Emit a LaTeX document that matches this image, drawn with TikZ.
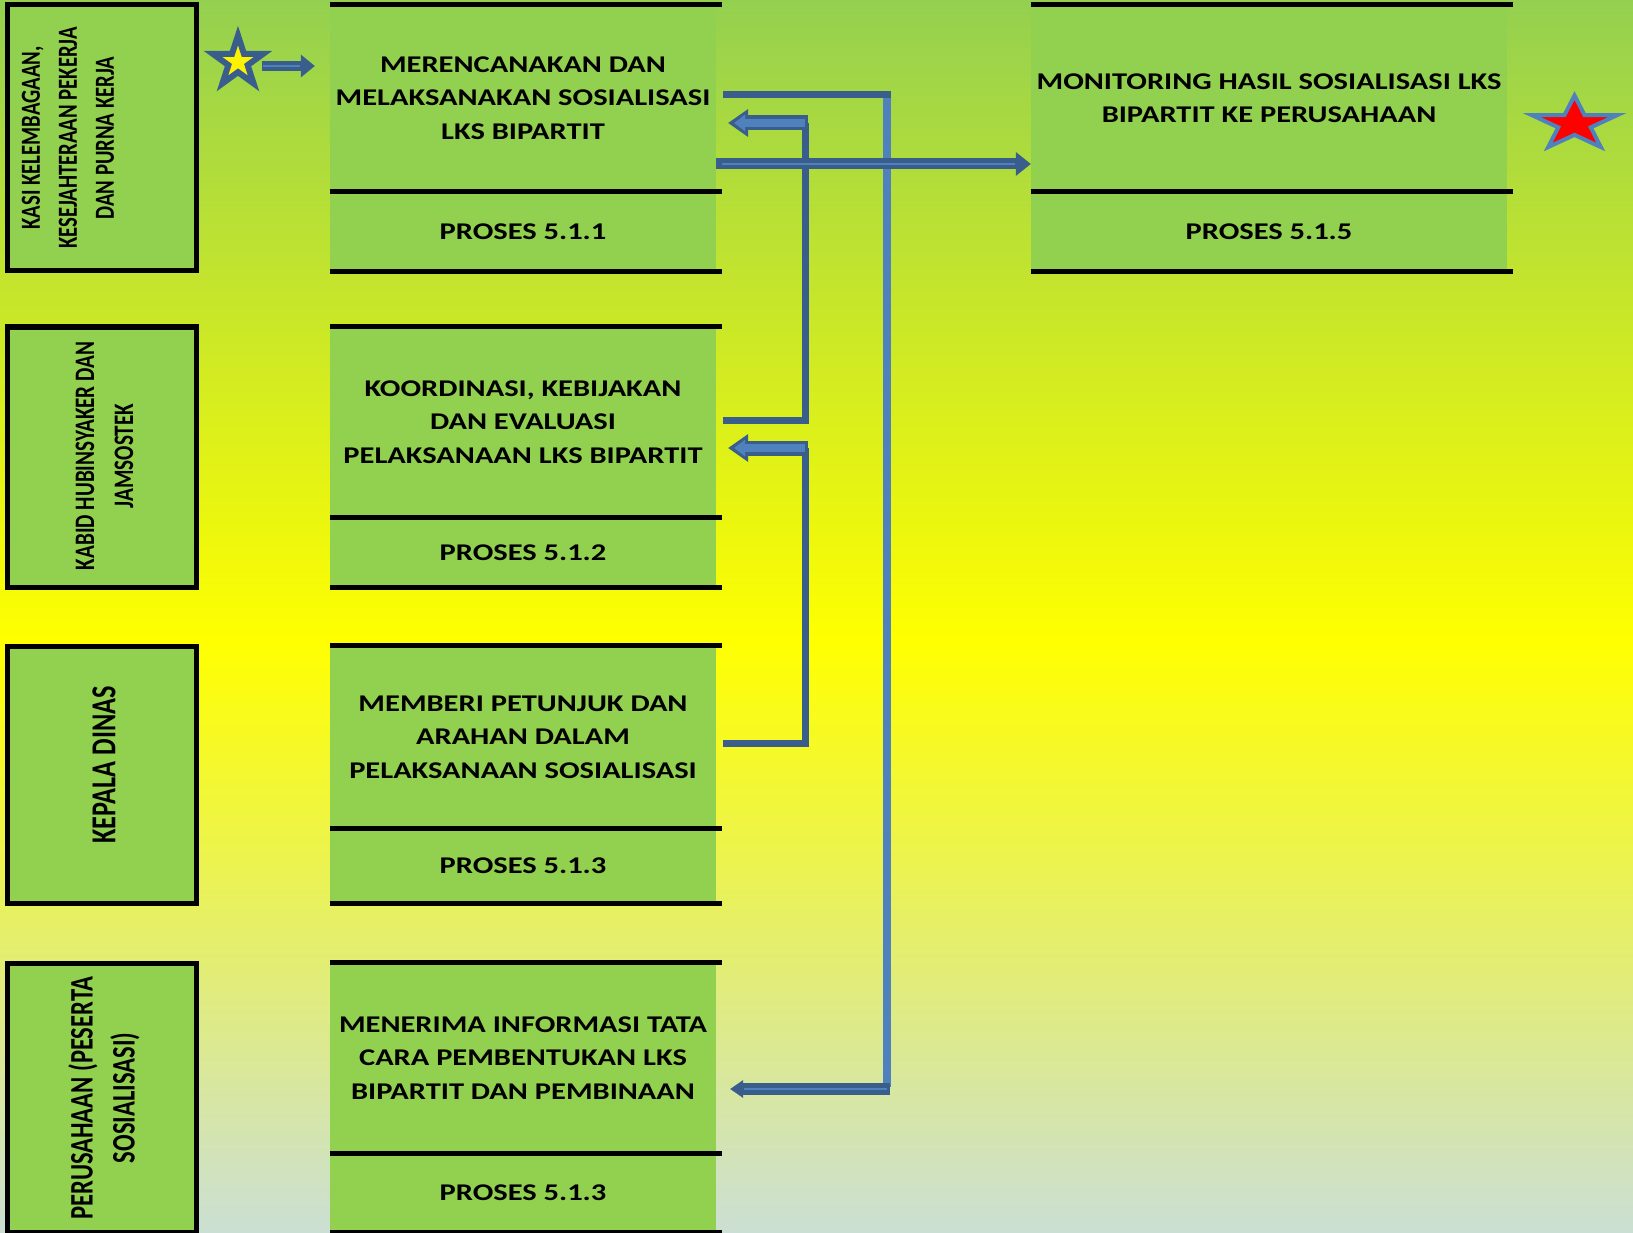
\documentclass[tikz,border=0pt]{standalone}
\usepackage{fontspec}
\setmainfont{Carlito}
\newfontfamily\taskfont{Carlito}[FakeStretch=1.27]
\newfontfamily\rolefont{Carlito}[FakeStretch=0.75]
\usepackage{xcolor}
\usetikzlibrary{
	arrows.meta,
	calc,
	positioning,
	shapes.geometric
}
\definecolor{boxgreen}{RGB}{146,208,80}
\definecolor{topgreen}{RGB}{148,208,80}
\definecolor{midyellow}{RGB}{255,255,0}
\definecolor{bottomgrey}{RGB}{203,223,212}
\definecolor{darkblue}{RGB}{57,94,140}
\definecolor{lightblue}{RGB}{79,129,189}

\begin{document}
\begin{tikzpicture}
	[x=1pt, y=-1pt,
	 role/.style={draw=black, line width=5pt, fill=boxgreen, inner sep=0pt},
	 roletext/.style={rotate=90, align=center, inner sep=0pt},
	 task/.style={fill=boxgreen, minimum width=386pt, inner sep=0pt, align=center,
		font=\taskfont\bfseries\fontsize{24pt}{33.5pt}\selectfont},
	 rule/.style={line width=5pt},
	 feed/.style={draw=darkblue, line width=7pt},
	 spine/.style={draw=lightblue, line width=8pt},
	 flat/.style={draw=darkblue, line width=11pt,
		-{Triangle[length=15pt, width=24pt, line width=0pt]}},
	 stripe/.style={draw=lightblue, line width=1.5pt},
	 hollow/.style={draw=darkblue, line width=15pt,
		-{Triangle[length=20pt, width=28pt, line width=0pt]}},
	 hollowfill/.style={draw=lightblue, line width=8pt, shorten >=6pt,
		-{Triangle[length=11pt, width=17pt, line width=0pt]}},
	 mark star/.style={star, star points=5, star point ratio=2.618, inner sep=0pt}
	]

	\useasboundingbox (0,0) rectangle (1633,1233);

	% background
	\begin{scope}
		\shade[top color=topgreen, bottom color=midyellow] (0,0) rectangle (1633,640);
		\shade[top color=midyellow, bottom color=bottomgrey] (0,639) rectangle (1633,1233);
	\end{scope}

	% lanes (who does it)
	\begin{scope}
		\foreach \i/\top/\bot in {1/5/271, 2/327/587, 3/646/903, 4/963/1232} {
			\pgfmathsetmacro\len{\bot-\top}
			\node[role, minimum width=189pt, minimum height=\len pt] (role\i) at (101.5, {(\top+\bot)/2}) {};
		}

		\node[roletext, font=\rolefont\bfseries\fontsize{27.6pt}{37pt}\selectfont] (role1text) at (68,138)
			{KASI KELEMBAGAAN,\\KESEJAHTERAAN PEKERJA\\DAN PURNA KERJA};
		\node[roletext, font=\rolefont\bfseries\fontsize{28.2pt}{39pt}\selectfont] (role2text) at (104.5,456)
			{KABID HUBINSYAKER DAN\\JAMSOSTEK};
		\node[roletext, font=\rolefont\bfseries\fontsize{35pt}{40pt}\selectfont] (role3text) at (104,765)
			{KEPALA DINAS};
		\node[roletext, font=\rolefont\bfseries\fontsize{32.8pt}{42pt}\selectfont] (role4text) at (104,1098)
			{PERUSAHAAN (PESERTA\\SOSIALISASI)};
	\end{scope}

	% process boxes
	\begin{scope}
		\newcommand{\RuleOver}{6pt}
		\foreach \i/\top/\mid/\bot/\job/\num in {
			1/5/191/271/{MERENCANAKAN DAN\\MELAKSANAKAN SOSIALISASI\\LKS BIPARTIT}/5.1.1,
			2/327/517/587/{KOORDINASI, KEBIJAKAN\\DAN EVALUASI\\PELAKSANAAN LKS BIPARTIT}/5.1.2,
			3/646/828/903/{MEMBERI PETUNJUK DAN\\ARAHAN DALAM\\PELAKSANAAN SOSIALISASI}/5.1.3,
			4/963/1153/1232/{MENERIMA INFORMASI TATA\\CARA PEMBENTUKAN LKS\\BIPARTIT DAN PEMBINAAN}/5.1.3} {
			\pgfmathsetmacro\hjob{\mid-\top}
			\pgfmathsetmacro\hnum{\bot-\mid}
			\node[task, minimum height=\hjob pt] (task\i) at (523, {(\top+\mid)/2}) {\job};
			\node[task, minimum height=\hnum pt, below=0pt of task\i] (num\i) {PROSES \num};
			\draw[rule] (task\i.north west) -- ([xshift=\RuleOver]task\i.north east);
			\draw[rule] (num\i.north west) -- ([xshift=\RuleOver]num\i.north east);
			\draw[rule] (num\i.south west) -- ([xshift=\RuleOver]num\i.south east);
		}

		% monitoring box
		\node[task, minimum width=476pt, minimum height=186pt] (monitor) at (1269,98)
			{MONITORING HASIL SOSIALISASI LKS\\BIPARTIT KE PERUSAHAAN};
		\node[task, minimum width=476pt, minimum height=80pt, below=0pt of monitor] (monitornum) {PROSES 5.1.5};
		\draw[rule] (monitor.north west) -- ([xshift=\RuleOver]monitor.north east);
		\draw[rule] (monitornum.north west) -- ([xshift=\RuleOver]monitornum.north east);
		\draw[rule] (monitornum.south west) -- ([xshift=\RuleOver]monitornum.south east);
	\end{scope}

	% start and end stars
	\node[mark star, minimum size=53pt, draw=darkblue, line width=6pt, fill=yellow] (startstar) at (238,62) {};
	\node[mark star, minimum size=57pt, draw=lightblue, line width=4pt, fill=red, xscale=1.57] (endstar) at (1574.5,124) {};

	% connectors
	\begin{scope}
		\coordinate (out1) at ($(task1.east)+(7,-3)$);
		\coordinate (out2) at ($(task2.east)+(7,-2)$);
		\coordinate (out3) at ($(task3.east)+(7,6)$);
		\coordinate (out5) at ($(task1.east)+(0,66)$);
		\coordinate (in1) at ($(task1.east)+(12,25)$);
		\coordinate (in2) at ($(task2.east)+(12,26)$);
		\coordinate (in4) at ($(task4.east)+(14,31)$);
		\coordinate (spinetop) at ($(out1)+(164,0)$);

		% long line down to the companies
		\draw[spine] (spinetop) -- ($(spinetop |- in4)+(0,-2)$);
		\draw[feed] (out1) -- ([xshift=4pt]spinetop);
		\draw[flat, line width=12pt, -{Triangle[length=13pt, width=18pt, line width=0pt]}]
			($(spinetop |- in4)+(3,0)$) -- (in4);
		\draw[stripe] (spinetop |- in4) -- ($(in4)+(14,0)$);

		% feedback to the box above
		\foreach \from/\to in {out2/in1, out3/in2} {
			\draw[feed] (\from) -| ($(\to)+(77,0)$);
			\draw[hollow] ($(\to)+(80,0)$) -- (\to);
			\draw[hollowfill] ($(\to)+(76.5,0)$) -- (\to);
		}

		% star into the first box
		\draw[flat, line width=10pt, -{Triangle[length=14pt, width=23pt, line width=0pt]}]
			($(startstar.center)+(24,4)$) -- ($(task1.west |- startstar.center)+(-15,4)$);
		\draw[stripe] ($(startstar.center)+(25,4)$) -- ($(task1.west |- startstar.center)+(-30,4)$);

		% to monitoring
		\draw[flat] (out5) -- (out5 -| monitor.west);
		\draw[stripe] ($(out5)+(6,0)$) -- ($(out5 -| monitor.west)+(-16,0)$);
	\end{scope}

\end{tikzpicture}
\end{document}
